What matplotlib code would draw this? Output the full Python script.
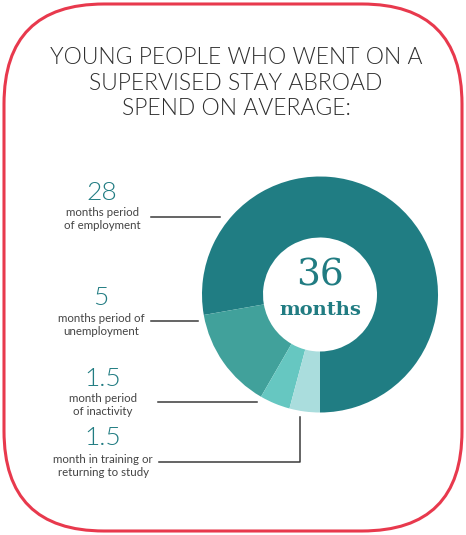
import matplotlib
matplotlib.use("Agg")
import matplotlib.pyplot as plt
from matplotlib.patches import FancyBboxPatch

# data
values = [28, 5, 1.5, 1.5]
value_labels = ["28", "5", "1.5", "1.5"]
descriptions = ["months period\nof employment",
                "months period of\nunemployment",
                "month period\nof inactivity",
                "month in training or\nreturning to study"]
colors = ["#207D83", "#41A19B", "#66C7C1", "#AADDDD"]
title = "YOUNG PEOPLE WHO WENT ON A\nSUPERVISED STAY ABROAD\nSPEND ON AVERAGE:"
total_label = "36"

W, H = 466, 535
teal = "#217C82"
grey = "#444444"

fig = plt.figure(figsize=(W / 100, H / 100), dpi=100)
ax = fig.add_axes([0, 0, 1, 1])

# donut (y axis gets inverted, so go clockwise in data coords)
cx, cy, r = 320, 294.5, 118
ax.pie(values, colors=colors, startangle=90, counterclock=False,
       center=(cx, cy), radius=r, frame=True,
       wedgeprops=dict(width=r - 57, linewidth=0))
ax.set_xlim(0, W)
ax.set_ylim(H, 0)
ax.set_aspect("equal")
ax.axis("off")

# frame
frame = FancyBboxPatch((4 + 100, 4 + 100), W - 8 - 200, H - 8 - 200,
                       boxstyle="round,pad=100", fc="none", ec="#E8394D", lw=2.2)
ax.add_patch(frame)

ax.text(236, 83, title, ha="center", va="center", fontsize=16.5,
        color="#2e2e2e", family="Lato", fontweight=300, linespacing=1.27)

ax.text(cx, 276, total_label, ha="center", va="center", fontsize=27,
        color=teal, family="DejaVu Serif")
ax.text(cx, 310, "months", ha="center", va="center", fontsize=14,
        color=teal, family="DejaVu Serif", fontweight="bold")

# labels
num_y = [193, 298, 379, 438]
desc_y = [219, 325, 405, 466]
num_x = [102, 101, 103, 103]
for lab, d, x, yn, yd in zip(value_labels, descriptions, num_x, num_y, desc_y):
    ax.text(x, yn, lab, ha="center", va="center", fontsize=19,
            color=teal, family="Lato", fontweight=300)
    ax.text(x, yd, d, ha="center", va="center", fontsize=8.3,
            color=grey, family="Lato", linespacing=1.25)

# leader lines
lc = "#3a3a3a"
ax.plot([151, 220], [217, 217], color=lc, lw=1.1)
ax.plot([151, 198], [321, 321], color=lc, lw=1.1)
ax.plot([158, 257], [402, 402], color=lc, lw=1.1)
ax.plot([159, 300, 300], [462, 462, 417], color=lc, lw=1.1)

fig.savefig("out.png", dpi=100)
